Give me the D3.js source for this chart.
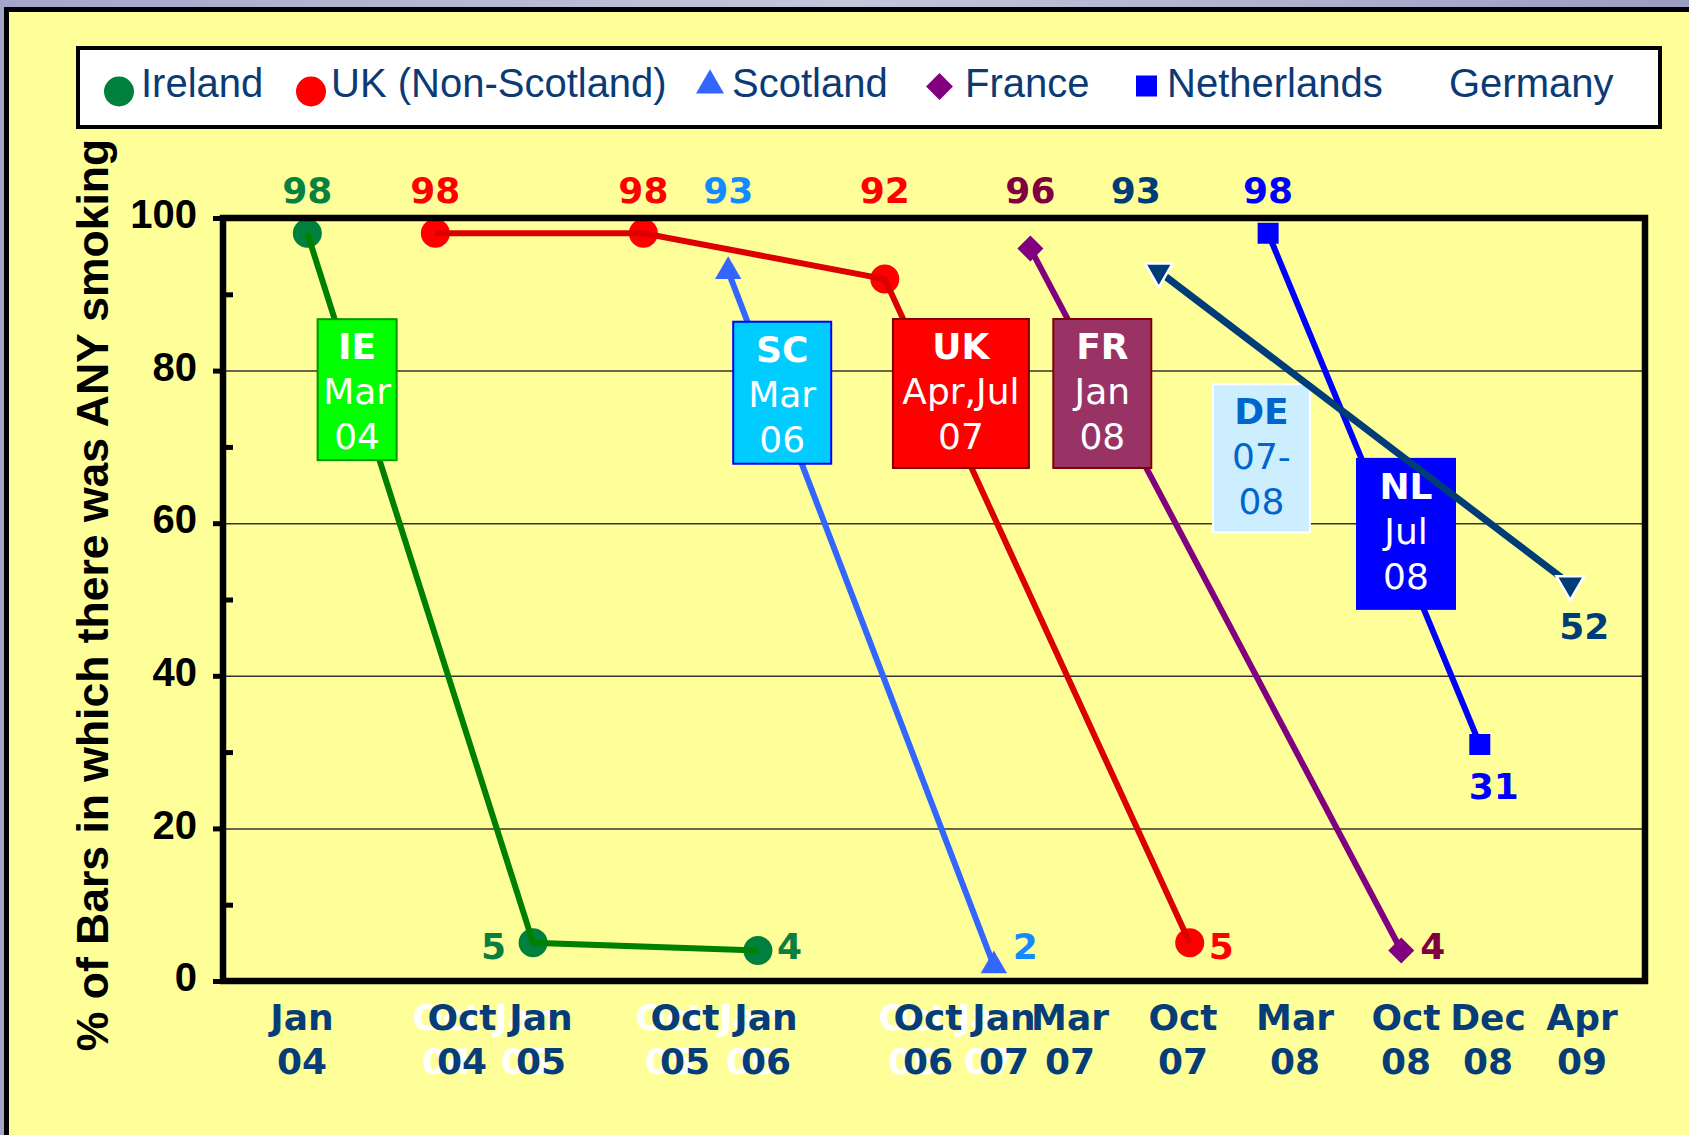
<!DOCTYPE html>
<html lang="en">
<head>
<meta charset="UTF-8">
<title>% of Bars in which there was ANY smoking</title>
<script src="https://d3js.org/d3.v7.min.js"></script>
<style>
    body { margin: 0; background: #fff; overflow: hidden; }
    svg { display: block; }
</style>
</head>
<body>
<div id="chart"></div>
<script>
// x is counted in months from Jan 2004
const tickMonths = [0, 9, 12, 21, 24, 33, 36, 38, 45, 50, 57, 59, 63];
const tickTop = ["Jan", "Oct", "Jan", "Oct", "Jan", "Oct", "Jan", "Mar", "Oct", "Mar", "Oct", "Dec", "Apr"];
const tickBottom = ["04", "04", "05", "05", "06", "06", "07", "07", "07", "08", "08", "08", "09"];
const tickGhost = [false, true, true, true, true, true, true, false, false, false, false, false, false];

const seriesNames = ["Ireland", "UK (Non-Scotland)", "Scotland", "France", "Netherlands", "Germany"];
const irelandMonths = [0.3, 11.7, 23.7];
const irelandValues = [98, 5, 4];
const ukMonths = [7.5, 18.4, 30.6, 45.3];
const ukValues = [98, 98, 92, 5];
const scotlandMonths = [22.6, 35.6];
const scotlandValues = [93, 2];
const franceMonths = [36.8, 56.7];
const franceValues = [96, 4];
const netherlandsMonths = [48.8, 58.8];
const netherlandsValues = [98, 31];
const germanyMonths = [43.5, 62.5];
const germanyValues = [93, 52];

// smoking ban boxes (centre given in months / percent)
const banCodes = ["IE", "SC", "UK", "FR", "DE", "NL"];
const banLine2 = ["Mar", "Mar", "Apr,Jul", "Jan", "07-", "Jul"];
const banLine3 = ["04", "06", "07", "08", "08", "08"];
const banMonths = [3.1, 24.9, 34.3, 40.0, 48.5, 57.0];
const banValues = [77.5, 77.1, 77.0, 77.0, 68.5, 58.6];

// ---- layout ----
const W = 1689, H = 1135;
const plot = { left: 223, right: 1645, top: 218, bottom: 981 };
const tickPx = [302, 462, 541, 685, 766, 928, 1004, 1070, 1183, 1295, 1406, 1488, 1582];
const banW = [79, 98, 136, 98, 97, 98];
const banH = [141, 142, 149, 149, 148, 150];
const banFill = ["#00ff00", "#00ccff", "#ff0000", "#993366", "#cceeff", "#0000ff"];
const banStroke = ["#009900", "#0000ff", "#800000", "#800000", "#ffffff", "#0000ff"];
const banText = ["#fff", "#fff", "#fff", "#fff", "#0066cc", "#fff"];

const seriesStyle = [
    { marker: "#00803d", line: "#008000", label: "#08803f", shape: "circle", size: 660, place: ["top", "left", "right"] },
    { marker: "#ff0000", line: "#dd0000", label: "#ff0000", shape: "circle", size: 660, place: ["top", "top", "top", "right"] },
    { marker: "#3366ff", line: "#3366ff", label: "#1589ff", shape: "triangle", size: 300, place: ["top", "right"] },
    { marker: "#800080", line: "#800080", label: "#800040", shape: "diamond", size: 338, place: ["top", "right"] },
    { marker: "#0000ff", line: "#0000ff", label: "#0000ff", shape: "square", size: 441, place: ["top", "below"] },
    { marker: "#003c78", line: "#003c78", label: "#003c78", shape: "down", size: 330, place: ["top", "below"], topDx: -23, width: 7 }
];
const legendMarkerX = [119, 311, 710, 939.5, 1146.5, null];
const legendMarkerY = [91.5, 91.5, 85.5, 86.5, 86, 0];
const legendMarkerSize = [707, 707, 339, 361, 441, 0];
const legendTextX = [141, 331, 732, 965, 1167, 1449];

const allMonths = [irelandMonths, ukMonths, scotlandMonths, franceMonths, netherlandsMonths, germanyMonths];
const allValues = [irelandValues, ukValues, scotlandValues, franceValues, netherlandsValues, germanyValues];
const series = seriesNames.map((name, i) => Object.assign({ name: name,
    points: allMonths[i].map((m, j) => ({ m: m, v: allValues[i][j] })) }, seriesStyle[i]));

const x = d3.scaleLinear().domain(tickMonths).range(tickPx);
const y = d3.scaleLinear().domain([0, 100]).range([plot.bottom, plot.top]);

const ARIAL = "'Liberation Sans', Arial, sans-serif";
const VERD = "'DejaVu Sans', Verdana, sans-serif";

function symbolPath(shape, size) {
    const type = { circle: d3.symbolCircle, triangle: d3.symbolTriangle, down: d3.symbolTriangle,
        diamond: d3.symbolSquare, square: d3.symbolSquare }[shape];
    return d3.symbol(type, size)();
}
function symbolRotate(shape) {
    return shape === "diamond" ? 45 : shape === "down" ? 180 : 0;
}

const svg = d3.select("#chart").append("svg").attr("width", W).attr("height", H);

// slide background + yellow panel
const grad = svg.append("defs").append("linearGradient").attr("id", "slide");
grad.append("stop").attr("offset", "0%").attr("stop-color", "#a3a6c9");
grad.append("stop").attr("offset", "50%").attr("stop-color", "#c4c6dc");
grad.append("stop").attr("offset", "100%").attr("stop-color", "#9a9dc2");
svg.append("rect").attr("width", W).attr("height", H).attr("fill", "url(#slide)");
svg.append("rect").attr("x", 6.5).attr("y", 9.5).attr("width", W + 20).attr("height", H + 20)
    .attr("fill", "#ffff99").attr("stroke", "#000").attr("stroke-width", 5);

// legend
svg.append("rect").attr("x", 78).attr("y", 48).attr("width", 1582).attr("height", 79)
    .attr("fill", "#fff").attr("stroke", "#000").attr("stroke-width", 4);
const legend = svg.append("g");
series.forEach((s, i) => {
    if (legendMarkerX[i] !== null) {
        legend.append("path")
            .attr("d", symbolPath(s.shape, legendMarkerSize[i]))
            .attr("transform", `translate(${legendMarkerX[i]},${legendMarkerY[i]}) rotate(${symbolRotate(s.shape)})`)
            .attr("fill", s.marker);
    }
    legend.append("text")
        .attr("x", legendTextX[i]).attr("y", 97)
        .style("font", `40px ${ARIAL}`).attr("fill", "#0b3a75")
        .text(s.name);
});

// y axis title
svg.append("text")
    .attr("transform", "translate(108,595) rotate(-90)")
    .attr("text-anchor", "middle")
    .style("font", `bold 44.5px ${ARIAL}`)
    .text("% of Bars in which there was ANY smoking");

// grid lines
svg.append("g").attr("transform", `translate(${plot.left},0)`)
    .call(d3.axisLeft(y).tickValues([20, 40, 60, 80]).tickSize(-(plot.right - plot.left)).tickFormat(""))
    .call(g => g.select(".domain").remove())
    .call(g => g.selectAll("line").attr("stroke", "#333").attr("stroke-width", 1.5));

// markers then lines (lines sit over the markers)
const normal = series.filter(s => s.shape !== "down");
const germany = series.filter(s => s.shape === "down");
const lineGen = d3.line().x(d => x(d.m)).y(d => y(d.v));

function drawMarkers(list) {
    list.forEach(s => {
        svg.append("g").selectAll("path").data(s.points).enter().append("path")
            .attr("d", symbolPath(s.shape, s.size))
            .attr("transform", d => `translate(${x(d.m)},${y(d.v)}) rotate(${symbolRotate(s.shape)})`)
            .attr("fill", s.marker)
            .attr("stroke", s.shape === "down" ? "#fff" : "none")
            .attr("stroke-width", 2.5);
    });
}
function drawLines(list) {
    list.forEach(s => {
        svg.append("path").datum(s.points)
            .attr("d", lineGen)
            .attr("fill", "none")
            .attr("stroke", s.line)
            .attr("stroke-width", s.width || 6);
    });
}
drawMarkers(normal);
drawLines(normal);

// ban boxes
banCodes.forEach((code, i) => {
    const cx = x(banMonths[i]), cy = y(banValues[i]);
    const left = cx - banW[i] / 2, top = cy - banH[i] / 2;
    const g = svg.append("g");
    g.append("rect").attr("x", left).attr("y", top).attr("width", banW[i]).attr("height", banH[i])
        .attr("fill", banFill[i]).attr("stroke", banStroke[i]).attr("stroke-width", 2);
    [code, banLine2[i], banLine3[i]].forEach((t, k) => {
        g.append("text").attr("x", cx).attr("y", top + 40 + k * 45)
            .attr("text-anchor", "middle").attr("fill", banText[i])
            .style("font", `${k === 0 ? "bold " : ""}36px ${VERD}`)
            .text(t);
    });
});

// Germany drawn on top
drawLines(germany);
drawMarkers(germany);

// value labels
series.forEach(s => {
    s.points.forEach((d, j) => {
        const px = x(d.m), py = y(d.v);
        const place = s.place[j];
        let tx = px, ty = 203, anchor = "middle";
        if (place === "top") { tx = px + (s.topDx || 0); }
        else if (place === "right") { tx = px + 19; ty = y(0) - 22; anchor = "start"; }
        else if (place === "left") { tx = px - 27; ty = y(0) - 22; anchor = "end"; }
        else { tx = px + 14; ty = py + 55; }
        svg.append("text").attr("x", tx).attr("y", ty).attr("text-anchor", anchor)
            .attr("fill", s.label).style("font", `bold 36px ${VERD}`)
            .text(d.v);
    });
});

// plot frame and y axis
svg.append("rect").attr("x", plot.left).attr("y", plot.top)
    .attr("width", plot.right - plot.left).attr("height", plot.bottom - plot.top)
    .attr("fill", "none").attr("stroke", "#000").attr("stroke-width", 6.5);

svg.append("g").attr("transform", `translate(${plot.left},0)`)
    .call(d3.axisLeft(y).tickValues(d3.range(0, 101, 20)).tickSize(10).tickPadding(16))
    .call(g => g.select(".domain").remove())
    .call(g => g.selectAll("line").attr("stroke", "#000").attr("stroke-width", 5))
    .call(g => g.selectAll("text").attr("fill", "#000").attr("dy", "0.24em")
        .style("font", `bold 40px ${ARIAL}`));

svg.append("g").attr("transform", `translate(${plot.left},0)`)
    .call(d3.axisRight(y).tickValues(d3.range(10, 100, 20)).tickSize(10).tickFormat(""))
    .call(g => g.select(".domain").remove())
    .call(g => g.selectAll("line").attr("stroke", "#000").attr("stroke-width", 5));

// x labels (white ghosts behind some of them)
const xl = svg.append("g");
const ticks = tickMonths.map((m, i) => ({ m: m, top: tickTop[i], bottom: tickBottom[i], ghost: tickGhost[i] }));
function xLabels(data, dx, fill) {
    data.forEach(t => {
        [t.top, t.bottom].forEach((txt, k) => {
            xl.append("text").attr("x", x(t.m) + dx).attr("y", 1030 + k * 44)
                .attr("text-anchor", "middle").attr("fill", fill)
                .style("font", `bold 36px ${VERD}`)
                .text(txt);
        });
    });
}
xLabels(ticks.filter(t => t.ghost), -15, "#ffffff");
xLabels(ticks, 0, "#063d78");
</script>
</body>
</html>
